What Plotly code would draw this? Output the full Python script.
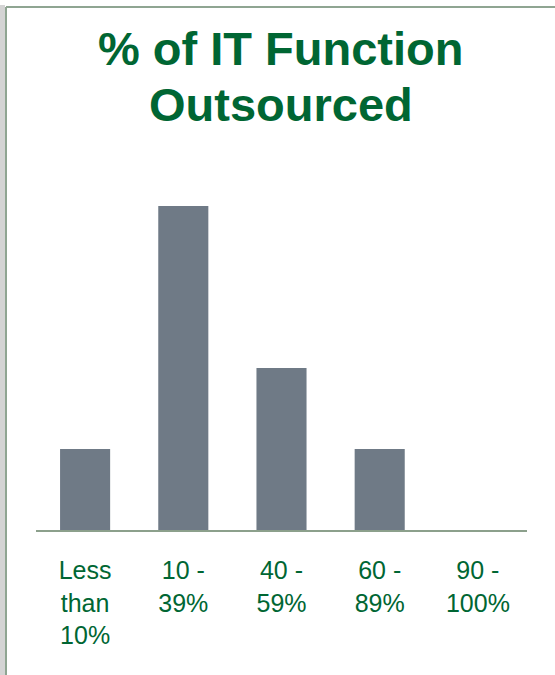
import plotly.graph_objects as go

categories = ["Less<br>than<br>10%", "10 -<br>39%", "40 -<br>59%", "60 -<br>89%", "90 -<br>100%"]
counts = [1, 4, 2, 1, 0]

title_lines = ["% of IT Function", "Outsourced"]
green = "#006633"
bar_color = "#6f7a86"

fig = go.Figure(
    go.Bar(
        x=categories,
        y=counts,
        marker=dict(color=bar_color, line=dict(width=0)),
        width=0.51,
        hoverinfo="x+y",
    )
)

W, H = 555, 675
left, right, top, bottom = 36, 28, 150, 145
pw = W - left - right
ph = H - top - bottom

fig.update_layout(
    width=W,
    height=H,
    margin=dict(l=left, r=right, t=top, b=bottom, pad=0),
    paper_bgcolor="white",
    plot_bgcolor="white",
    showlegend=False,
    font=dict(family="Liberation Sans, Arial, sans-serif", color=green),
    xaxis=dict(
        showgrid=False,
        showline=True,
        linecolor="#8ca08c",
        linewidth=2,
        ticks="",
        tickfont=dict(size=25, color=green),
        ticklabelstandoff=17,
        zeroline=False,
    ),
    yaxis=dict(
        range=[0, 4 * ph / 324],
        showgrid=False,
        showline=False,
        showticklabels=False,
        ticks="",
        zeroline=False,
    ),
    bargap=0.49,
)

# title, two lines
for line_text, cy in zip(title_lines, [44, 99]):
    fig.add_annotation(
        text="<b>" + line_text + "</b>",
        xref="paper", yref="paper",
        x=(281 - left) / pw, y=(H - top - cy) / ph,
        xanchor="center", yanchor="middle",
        showarrow=False,
        font=dict(size=47, color=green, family="Liberation Sans, Arial, sans-serif"),
    )

# slide frame (left strip and border lines)
fx0 = -left / pw
fx1 = (W - left) / pw
fy_top = (H - top) / ph
fig.add_shape(type="rect", xref="paper", yref="paper",
              x0=fx0, x1=fx0 + 5 / pw, y0=-bottom / ph, y1=fy_top,
              fillcolor="#d4d4d4", line=dict(width=0), layer="above")
fig.add_shape(type="line", xref="paper", yref="paper",
              x0=fx0 + 6 / pw, x1=fx0 + 6 / pw, y0=-bottom / ph, y1=fy_top - 2 / ph,
              line=dict(color="#8fa592", width=2), layer="above")
fig.add_shape(type="line", xref="paper", yref="paper",
              x0=fx0 + 6 / pw, x1=fx1, y0=fy_top - 2 / ph, y1=fy_top - 2 / ph,
              line=dict(color="#8fa592", width=2), layer="above")

fig.write_html("out.html", config={"displayModeBar": False},
               post_script="document.body.style.margin='0';")
